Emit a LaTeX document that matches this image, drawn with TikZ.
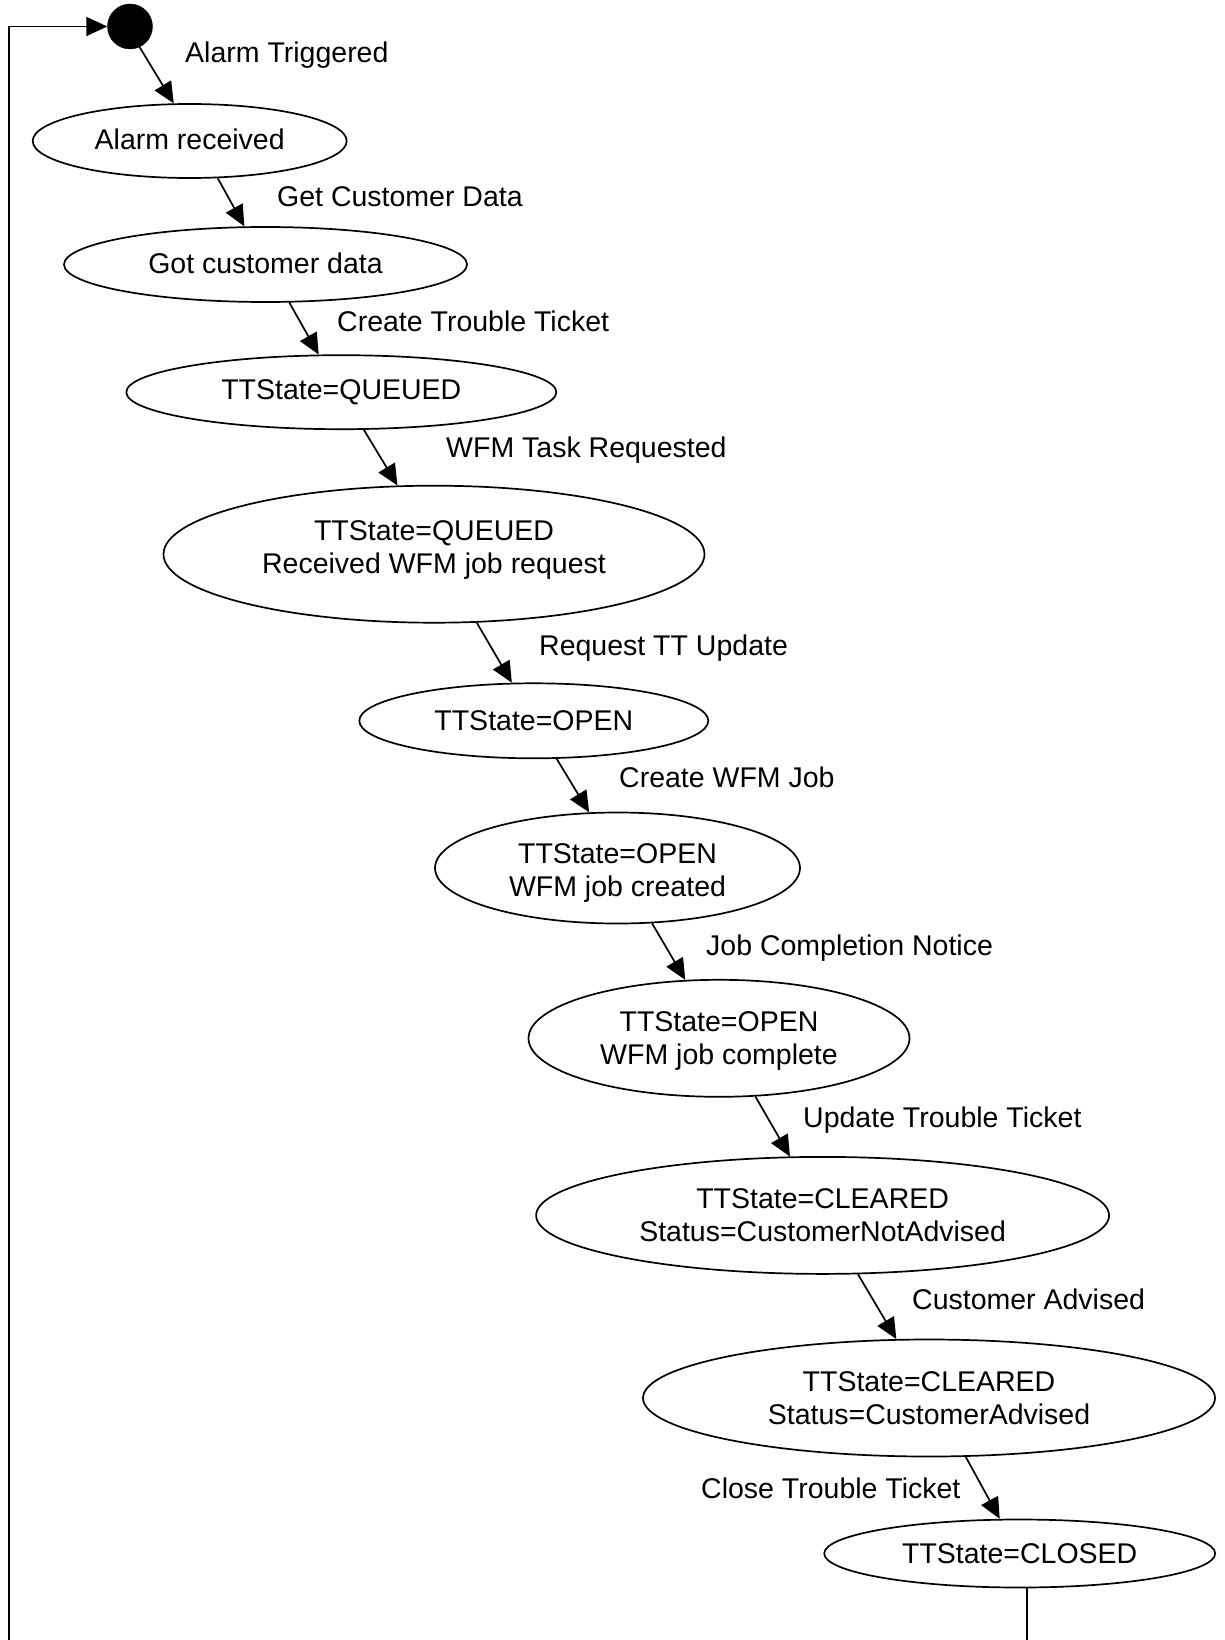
\documentclass[tikz,border=0pt]{standalone}
\usepackage{fontspec}
\setmainfont{Liberation Sans}
\usetikzlibrary{arrows.meta,shapes.geometric}
% text moved vertically inside its node without changing the node's size
\newcommand{\liftlines}[2]{\raisebox{#1}[\height][\depth]{\begin{tabular}{@{}c@{}}#2\end{tabular}}}
\newcommand{\liftline}[2]{\raisebox{#1}[\height][\depth]{#2}}
\begin{document}
\begin{tikzpicture}[x=1pt,y=-1pt,
  every node/.style={font=\fontsize{28.5}{33.3}\selectfont},
  state/.style={ellipse, draw, line width=1.7pt, inner sep=0pt, align=center},
  trans/.style={draw, line width=1.7pt, -{Triangle[length=21pt,width=19pt]}},
  plain/.style={draw, line width=1.7pt},
  lbl/.style={anchor=base west, inner sep=0pt},
]
\useasboundingbox (0,0) rectangle (1224,1640);

% initial pseudo-state
\node[circle, fill=black, draw, minimum size=45pt, inner sep=0pt] (start) at (130,26.5) {};

% trouble ticket states
\node[state, minimum width=314pt, minimum height=74pt]  (n1)  at (189.7,141)    {\liftline{1.5pt}{Alarm received}};
\node[state, minimum width=403pt, minimum height=75pt]  (n2)  at (265.5,264.5)  {\liftline{1.5pt}{Got customer data}};
\node[state, minimum width=430pt, minimum height=74pt]  (n3)  at (341.3,392.2)  {TTState=QUEUED};
\node[state, minimum width=541pt, minimum height=137pt] (n4)  at (434,554.2)    {\liftlines{4pt}{TTState=QUEUED\\Received WFM job request}};
\node[state, minimum width=349pt, minimum height=75pt]  (n5)  at (533.8,720.8)  {TTState=OPEN};
\node[state, minimum width=365pt, minimum height=111pt] (n6)  at (617.5,868)    {\liftlines{-5pt}{TTState=OPEN\\WFM job created}};
\node[state, minimum width=381pt, minimum height=117pt] (n7)  at (719,1038.3)   {\liftlines{-3pt}{TTState=OPEN\\WFM job complete}};
\node[state, minimum width=573pt, minimum height=117pt] (n8)  at (822.6,1215.4) {TTState=CLEARED\\Status=CustomerNotAdvised};
\node[state, minimum width=572pt, minimum height=117pt] (n9)  at (929,1398)     {TTState=CLEARED\\Status=CustomerAdvised};
\node[state, minimum width=391pt, minimum height=68pt]  (n10) at (1019.7,1553.5) {TTState=CLOSED};

% transitions
\draw[trans] (start.-65)  -- (n1.113.7);
\draw[trans] (n1.-53.9)   -- (n2.119.8);
\draw[trans] (n2.-58.5)   -- (n3.121.4);
\draw[trans] (n3.-59.2)   -- (n4.118.8);
\draw[trans] (n4.-58.4)   -- (n5.120.5);
\draw[trans] (n5.-59.4)   -- (n6.117.8);
\draw[trans] (n6.-58.3)   -- (n7.120);
\draw[trans] (n7.-58.9)   -- (n8.119.2);
\draw[trans] (n8.-59.6)   -- (n9.119.8);
\draw[trans] (n9.-58.6)   -- (n10.120);

% transition labels
\node[lbl] (t0) at (185,63)    {Alarm Triggered};
\node[lbl] (t1) at (277,206.5) {Get Customer Data};
\node[lbl] (t2) at (337,331)   {Create Trouble Ticket};
\node[lbl] (t3) at (446,457)   {WFM Task Requested};
\node[lbl] (t4) at (539,655)   {Request TT Update};
\node[lbl] (t5) at (619,787)   {Create WFM Job};
\node[lbl] (t6) at (706,955)   {Job Completion Notice};
\node[lbl] (t7) at (803,1127)  {Update Trouble Ticket};
\node[lbl] (t8) at (912,1309)  {Customer Advised};
\node[lbl] (t9) at (701,1498)  {Close Trouble Ticket};

% return path to the initial state
\coordinate (loopL) at (9,1640);
\coordinate (loopB) at (1026.7,1640);
\draw[plain] (n10.-78.4) -- (n10.-78.4 |- loopB);
\draw[trans] (loopL) |- (start);
\end{tikzpicture}
\end{document}
